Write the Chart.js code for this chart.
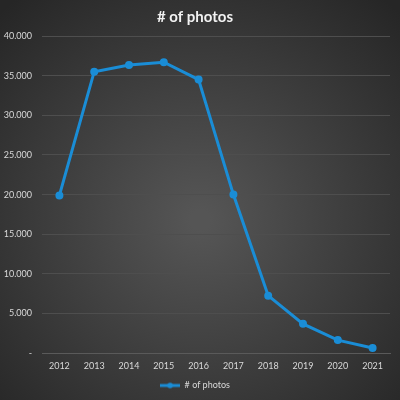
<!DOCTYPE html>
<html>
<head>
<meta charset="utf-8">
<script src="https://cdn.jsdelivr.net/npm/chart.js@4/dist/chart.umd.min.js"></script>
<style>
  html, body { margin: 0; padding: 0; background: #2b2b2b; }
  #wrap { width: 400px; height: 400px; }
</style>
</head>
<body>
<div id="wrap"><canvas id="photos__chart" width="400" height="400"></canvas></div>
<script>
const years = ['2012', '2013', '2014', '2015', '2016', '2017', '2018', '2019', '2020', '2021'];
const photos = [19900, 35500, 36350, 36700, 34500, 20000, 7250, 3700, 1650, 650];
const seriesName = '# of photos';
const lineColor = '#1a8dd6';
const textColor = '#d9d9d9';

window.addEventListener('load', fillChart);

// Excel-ish dark radial background
const bgPlugin = {
  id: 'bg',
  beforeDraw(chart) {
    const ctx = chart.ctx;
    const w = chart.width, h = chart.height;
    let g = ctx.createRadialGradient(w / 2, h * 0.55, 10, w / 2, h * 0.55, w * 0.72);
    g.addColorStop(0, '#555555');
    g.addColorStop(1, '#262626');
    ctx.save();
    ctx.fillStyle = g;
    ctx.fillRect(0, 0, w, h);
    ctx.restore();
  }
};

function legendIcon() {
  let c = document.createElement('canvas');
  c.width = 20; c.height = 8;
  let x = c.getContext('2d');
  x.strokeStyle = lineColor;
  x.lineWidth = 3;
  x.beginPath(); x.moveTo(0, 4); x.lineTo(20, 4); x.stroke();
  x.fillStyle = lineColor;
  x.beginPath(); x.arc(10, 4, 2.8, 0, Math.PI * 2); x.fill();
  return c;
}

function fillChart() {
  let ctx = document.getElementById('photos__chart').getContext('2d');
  let icon = legendIcon();
  CHART = new Chart(ctx, {
    type: 'line',
    plugins: [bgPlugin],
    data: {
      labels: years,
      datasets: [{
        label: seriesName,
        data: photos,
        borderColor: lineColor,
        backgroundColor: lineColor,
        borderWidth: 3,
        pointRadius: 2.5,
        pointHoverRadius: 2.5,
        tension: 0
      }]
    },
    options: {
      responsive: false,
      animation: false,
      layout: { padding: { left: 0, right: 10, top: 4, bottom: 0 } },
      plugins: {
        title: {
          display: true,
          text: seriesName,
          color: '#f2f2f2',
          font: { family: 'Lato', size: 15, weight: 'bold' },
          padding: { top: 4, bottom: 10 }
        },
        legend: {
          display: true,
          position: 'bottom',
          labels: {
            color: textColor,
            font: { family: 'Lato', size: 9 },
            usePointStyle: true,
            pointStyleWidth: 20,
            generateLabels: () => [{
              text: seriesName,
              fontColor: textColor,
              pointStyle: icon,
              strokeStyle: lineColor,
              fillStyle: lineColor,
              lineWidth: 0,
              datasetIndex: 0
            }],
            padding: 3
          }
        },
        tooltip: { enabled: false }
      },
      scales: {
        x: {
          offset: true,
          grid: { display: false, drawTicks: false },
          border: { display: true, color: '#5a5a5a' },
          ticks: {
            color: textColor,
            font: { family: 'Lato', size: 9 },
            padding: 7,
            maxRotation: 0
          }
        },
        y: {
          min: 0,
          max: 40000,
          afterFit: s => { s.width = 42; },
          grid: { color: '#4e4e4e', drawTicks: false },
          border: { display: false },
          ticks: {
            stepSize: 5000,
            color: textColor,
            font: { family: 'Lato', size: 9 },
            padding: 10,
            callback: v => v === 0 ? '-' : v.toLocaleString('de-DE')
          }
        }
      }
    }
  });
}
</script>
</body>
</html>
